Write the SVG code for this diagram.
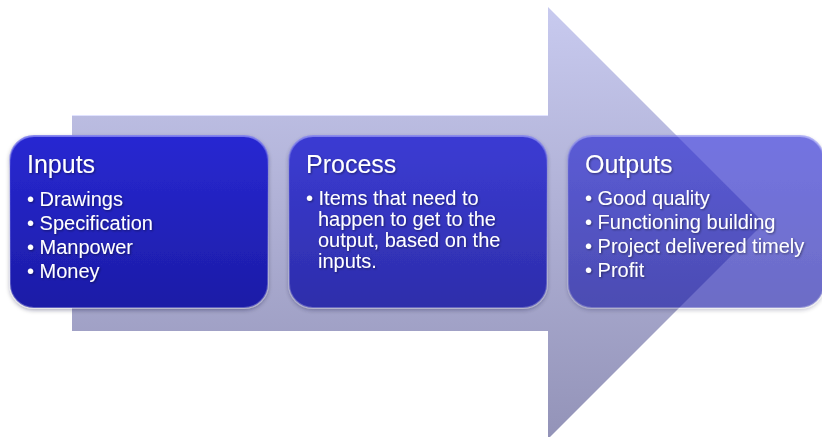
<svg xmlns="http://www.w3.org/2000/svg" width="822" height="437" viewBox="0 0 822 437">
  <defs>
    <linearGradient id="arrowGrad" x1="0" y1="0" x2="0" y2="1">
      <stop offset="0" stop-color="#c8caef"/>
      <stop offset="1" stop-color="#9393b8"/>
    </linearGradient>
    <linearGradient id="boxGrad" x1="0" y1="0" x2="0" y2="1">
      <stop offset="0" stop-color="#2828d2"/>
      <stop offset="1" stop-color="#1c1ca6"/>
    </linearGradient>
    <linearGradient id="edgeGrad" x1="0" y1="0" x2="0" y2="1">
      <stop offset="0" stop-color="#8080f0" stop-opacity="0.9"/>
      <stop offset="0.2" stop-color="#6060e0" stop-opacity="0.2"/>
      <stop offset="1" stop-color="#ffffff" stop-opacity="0.3"/>
    </linearGradient>
    <filter id="shadow" x="-10%" y="-10%" width="120%" height="130%">
      <feDropShadow dx="0" dy="2" stdDeviation="2" flood-color="#000030" flood-opacity="0.35"/>
    </filter>
    <filter id="textShadow" x="-5%" y="-5%" width="110%" height="120%">
      <feDropShadow dx="1" dy="1" stdDeviation="0.8" flood-color="#000000" flood-opacity="0.45"/>
    </filter>
  </defs>
  <style>
    .box { fill: url(#boxGrad); stroke: url(#edgeGrad); stroke-width: 2; filter: url(#shadow); }
    .title { font-family: "Liberation Sans", Arial, sans-serif; font-size: 25px; fill: #ffffff; }
    .item { font-family: "Liberation Sans", Arial, sans-serif; font-size: 20px; fill: #ffffff; }
    .txt { filter: url(#textShadow); }
  </style>

  <g id="arrow">
    <polygon points="72,115 548,115 548,7 764,223 548,439 548,331 72,331" fill="url(#arrowGrad)"/>
    <line x1="72" y1="115.5" x2="548" y2="115.5" stroke="#e0e2ff" stroke-width="1"/>
  </g>

  <g id="inputs">
    <rect class="box" x="10" y="136" width="258" height="172" rx="24" ry="24"/>
    <g class="txt">
      <text class="title" x="27" y="173">Inputs</text>
      <text class="item" x="27" y="206">• Drawings</text>
      <text class="item" x="27" y="230">• Specification</text>
      <text class="item" x="27" y="254">• Manpower</text>
      <text class="item" x="27" y="278">• Money</text>
    </g>
  </g>

  <g id="process">
    <rect class="box" x="289" y="136" width="258" height="172" rx="24" ry="24" opacity="0.86"/>
    <g class="txt">
      <text class="title" x="306" y="173">Process</text>
      <text class="item" x="306" y="205">• Items that need to</text>
      <text class="item" x="318" y="226">happen to get to the</text>
      <text class="item" x="318" y="247">output, based on the</text>
      <text class="item" x="318" y="268">inputs.</text>
    </g>
  </g>

  <g id="outputs">
    <rect class="box" x="568" y="136" width="256" height="172" rx="24" ry="24" opacity="0.64"/>
    <g class="txt">
      <text class="title" x="585" y="173">Outputs</text>
      <text class="item" x="585" y="205">• Good quality</text>
      <text class="item" x="585" y="229">• Functioning building</text>
      <text class="item" x="585" y="253">• Project delivered timely</text>
      <text class="item" x="585" y="277">• Profit</text>
    </g>
  </g>

  <g id="connectors"></g>
</svg>
